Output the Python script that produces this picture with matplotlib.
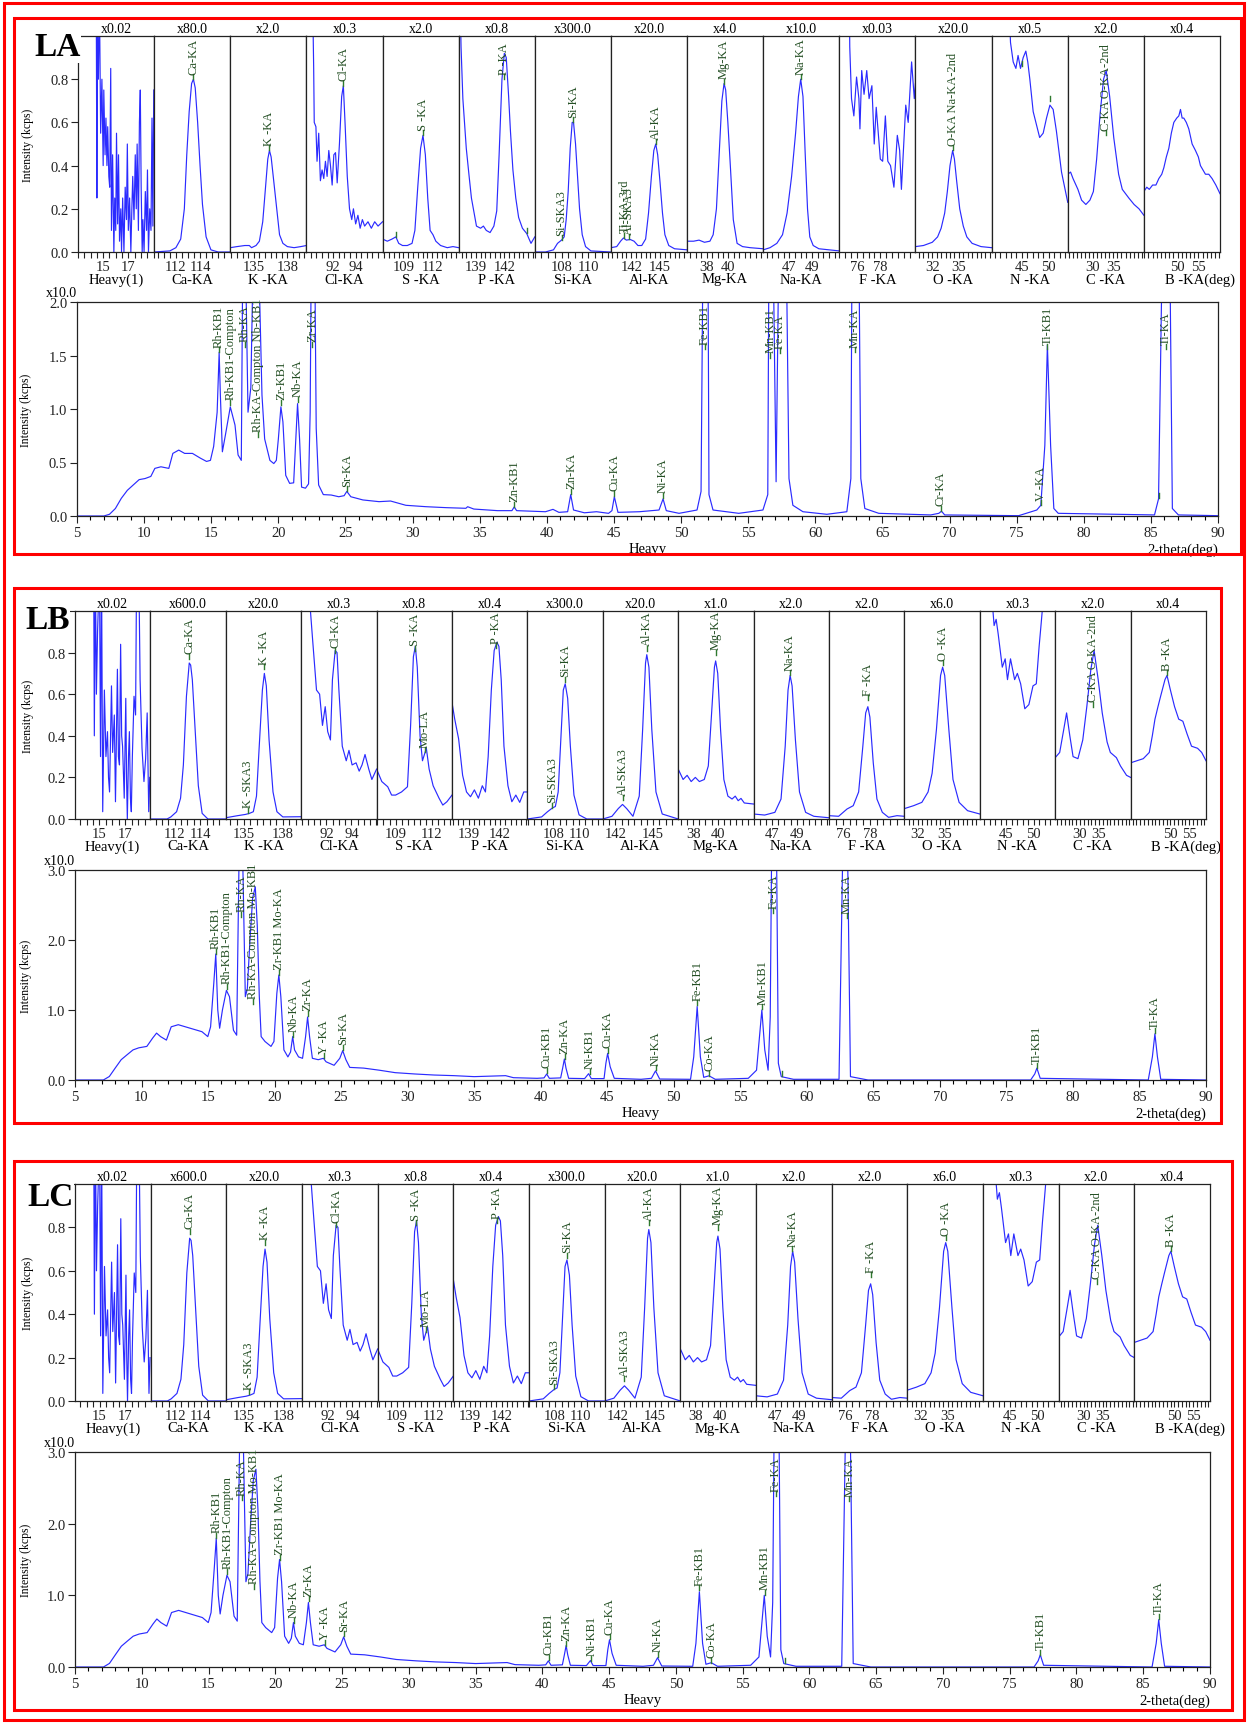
import numpy as np
import matplotlib
matplotlib.use('Agg')
import matplotlib.pyplot as plt
from matplotlib.patches import Rectangle

plt.rcParams['font.family'] = ['Liberation Serif', 'DejaVu Serif']

W, H = 1247, 1724
BLUE = '#2b2bff'
GREEN = '#2f7a2f'
TXTGREEN = '#244f24'

# ---- top row: element windows ----
NAMES = ['Heavy(1)', 'Ca-KA', 'K -KA', 'Cl-KA', 'S -KA', 'P -KA', 'Si-KA', 'Al-KA',
         'Mg-KA', 'Na-KA', 'F -KA', 'O -KA', 'N -KA', 'C -KA', 'B -KA(deg)']
TICKLABS = [(15, 17), (112, 114), (135, 138), (92, 94), (109, 112), (139, 142), (108, 110),
            (142, 145), (38, 40), (47, 49), (76, 78), (32, 35), (45, 50), (30, 35), (50, 55)]

LA_SCALES = ['x0.02', 'x80.0', 'x2.0', 'x0.3', 'x2.0', 'x0.8', 'x300.0', 'x20.0', 'x4.0',
             'x10.0', 'x0.03', 'x20.0', 'x0.5', 'x2.0', 'x0.4']
LB_SCALES = ['x0.02', 'x600.0', 'x20.0', 'x0.3', 'x0.8', 'x0.4', 'x300.0', 'x20.0', 'x1.0',
             'x2.0', 'x2.0', 'x6.0', 'x0.3', 'x2.0', 'x0.4']

LA_RANGES = [(13.0, 19.05), (110.2, 116.5), (132.9, 139.7), (89.6, 96.4), (106.8, 114.8),
             (137.2, 145.2), (106.0, 111.7), (139.9, 147.8), (36.2, 43.2), (44.7, 51.4),
             (74.5, 81.0), (30.1, 38.7), (39.4, 53.5), (23.8, 42.5), (41.9, 60.2)]
LB_RANGES = [(13.1, 18.95), (110.1, 116.0), (133.65, 139.4), (89.97, 96.03), (107.43, 113.66),
             (137.43, 144.6), (105.97, 111.85), (141.0, 147.0), (36.77, 42.93), (45.5, 51.63),
             (74.98, 80.55), (30.52, 38.9), (40.15, 53.9), (23.5, 43.3), (39.44, 59.44)]

LA_HEAVY = [(14.45, 1.2), (14.5, 0.25), (14.55, 1.0), (14.62, 0.8), (14.7, 1.2), (14.8, 0.55),
            (14.9, 0.8), (15.0, 0.4), (15.05, 0.75), (15.15, 0.45), (15.22, 0.62), (15.3, 0.4),
            (15.36, 0.58), (15.45, 0.35), (15.52, 0.3), (15.6, 0.85), (15.66, 0.1), (15.75, 0.45),
            (15.85, 0.0), (15.92, 0.25), (16.0, 0.1), (16.06, 0.55), (16.15, 0.13), (16.22, 0.45),
            (16.3, 0.05), (16.4, 0.2), (16.46, 0.0), (16.55, 0.25), (16.65, 0.0), (16.75, 0.3),
            (16.85, 0.15), (16.92, 0.5), (17.0, 0.1), (17.1, 0.25), (17.2, 0.0), (17.28, 0.2),
            (17.35, 0.35), (17.45, 0.15), (17.55, 0.45), (17.63, 0.2), (17.7, 0.5), (17.8, 0.1),
            (17.88, 0.6), (17.95, 0.75), (18.02, 0.3), (18.1, 0.0), (18.16, 0.15), (18.25, 0.0),
            (18.35, 0.28), (18.45, 0.1), (18.52, 0.38), (18.6, 0.0), (18.7, 0.2), (18.8, 0.1),
            (18.88, 0.62), (18.95, 0.12), (19.02, 0.75)]
LA_CA = [(110.2, 0.0), (111.5, 0.005), (112.0, 0.02), (112.4, 0.06), (112.7, 0.2), (112.9, 0.45),
         (113.1, 0.65), (113.3, 0.78), (113.45, 0.8), (113.6, 0.76), (113.8, 0.6), (114.0, 0.4),
         (114.2, 0.22), (114.5, 0.07), (114.9, 0.01), (115.5, 0.0), (116.5, 0.0)]
LA_K = [(132.9, 0.02), (133.5, 0.025), (134.2, 0.03), (134.6, 0.03), (134.8, 0.02), (135.2, 0.03),
        (135.5, 0.05), (135.8, 0.14), (136.05, 0.3), (136.25, 0.43), (136.4, 0.47), (136.55, 0.44),
        (136.8, 0.32), (137.05, 0.2), (137.3, 0.08), (137.6, 0.04), (138.0, 0.025), (138.6, 0.02),
        (139.2, 0.025), (139.7, 0.03)]
LA_CL = [(90.15, 1.2), (90.25, 0.85), (90.3, 0.6), (90.45, 0.58), (90.55, 0.42), (90.7, 0.55),
         (90.85, 0.33), (91.0, 0.38), (91.15, 0.34), (91.3, 0.42), (91.45, 0.35), (91.6, 0.47),
         (91.75, 0.4), (91.9, 0.31), (92.05, 0.45), (92.2, 0.46), (92.35, 0.32), (92.55, 0.5),
         (92.75, 0.72), (92.9, 0.77), (93.05, 0.6), (93.25, 0.35), (93.45, 0.2), (93.65, 0.15),
         (93.8, 0.2), (94.0, 0.13), (94.2, 0.17), (94.4, 0.11), (94.6, 0.15), (94.8, 0.12),
         (95.1, 0.14), (95.4, 0.11), (95.7, 0.14), (96.0, 0.12), (96.4, 0.14)]
LA_S = [(106.8, 0.06), (107.3, 0.05), (107.8, 0.06), (108.2, 0.07), (108.5, 0.04), (108.9, 0.03),
        (109.4, 0.03), (109.9, 0.04), (110.2, 0.1), (110.5, 0.3), (110.8, 0.48), (111.05, 0.54),
        (111.3, 0.45), (111.55, 0.25), (111.8, 0.1), (112.1, 0.08), (112.4, 0.05), (112.9, 0.03),
        (113.6, 0.02), (114.2, 0.025), (114.8, 0.02)]
LA_P = [(137.3, 1.3), (137.45, 0.95), (137.64, 0.71), (138.0, 0.48), (138.3, 0.35), (138.54, 0.25),
        (139.07, 0.12), (139.5, 0.11), (139.8, 0.12), (140.1, 0.1), (140.5, 0.09), (140.9, 0.12),
        (141.2, 0.19), (141.45, 0.45), (141.75, 0.8), (142.0, 0.92), (142.2, 0.9), (142.45, 0.72),
        (142.64, 0.56), (142.9, 0.38), (143.2, 0.25), (143.5, 0.16), (143.9, 0.11), (144.36, 0.085),
        (144.6, 0.06), (144.8, 0.04), (145.2, 0.07)]
LA_SI = [(106.0, 0.0), (106.8, 0.0), (107.4, 0.01), (107.7, 0.04), (108.0, 0.055), (108.2, 0.07),
         (108.35, 0.15), (108.5, 0.28), (108.65, 0.48), (108.8, 0.6), (108.9, 0.6), (109.05, 0.5),
         (109.2, 0.35), (109.35, 0.2), (109.55, 0.08), (109.8, 0.025), (110.2, 0.005), (111.7, 0.0)]
LA_AL = [(139.9, 0.02), (140.5, 0.025), (140.9, 0.05), (141.2, 0.065), (141.5, 0.055),
         (141.9, 0.058), (142.3, 0.05), (142.7, 0.03), (143.1, 0.03), (143.5, 0.06), (143.8, 0.18),
         (144.1, 0.35), (144.35, 0.47), (144.55, 0.5), (144.75, 0.45), (145.0, 0.32), (145.25, 0.18),
         (145.5, 0.08), (145.9, 0.03), (146.5, 0.015), (147.8, 0.01)]
LA_MG = [(36.2, 0.05), (36.8, 0.05), (37.3, 0.055), (37.8, 0.045), (38.3, 0.05), (38.6, 0.08),
         (38.9, 0.2), (39.15, 0.45), (39.4, 0.7), (39.6, 0.78), (39.75, 0.75), (39.95, 0.6),
         (40.2, 0.38), (40.45, 0.15), (40.8, 0.04), (41.3, 0.025), (42.0, 0.02), (43.2, 0.015)]
LA_NA = [(44.7, 0.01), (45.3, 0.02), (45.9, 0.04), (46.4, 0.08), (46.8, 0.18), (47.2, 0.35),
         (47.55, 0.55), (47.8, 0.72), (48.0, 0.8), (48.2, 0.72), (48.4, 0.45), (48.6, 0.2),
         (48.8, 0.07), (49.1, 0.03), (49.6, 0.015), (50.5, 0.01), (51.4, 0.005)]
LA_F = [(75.35, 1.2), (75.39, 0.95), (75.54, 0.71), (75.74, 0.63), (75.97, 0.81), (76.17, 0.71),
        (76.26, 0.57), (76.41, 0.84), (76.61, 0.73), (76.84, 0.84), (77.04, 0.71), (77.28, 0.77),
        (77.48, 0.5), (77.65, 0.67), (78.0, 0.43), (78.2, 0.42), (78.43, 0.63), (78.64, 0.42),
        (78.87, 0.4), (79.16, 0.3), (79.45, 0.54), (79.65, 0.47), (79.8, 0.29), (80.17, 0.68),
        (80.38, 0.6), (80.67, 0.88), (80.9, 0.71), (81.0, 0.78)]
LA_O = [(30.1, 0.025), (31.0, 0.03), (32.0, 0.045), (32.6, 0.07), (33.0, 0.11), (33.4, 0.18),
        (33.7, 0.28), (34.0, 0.4), (34.3, 0.47), (34.5, 0.43), (34.75, 0.33), (35.1, 0.2),
        (35.5, 0.12), (35.9, 0.07), (36.5, 0.04), (37.5, 0.025), (38.7, 0.02)]
LA_N = [(42.7, 1.1), (42.9, 0.97), (43.4, 0.88), (43.9, 0.85), (44.3, 0.91), (44.75, 0.85),
        (45.25, 0.9), (45.74, 0.93), (46.1, 0.88), (46.48, 0.8), (47.1, 0.65), (47.8, 0.58),
        (48.3, 0.53), (48.95, 0.55), (49.57, 0.62), (50.2, 0.68), (50.8, 0.66), (51.4, 0.56),
        (52.35, 0.37), (53.5, 0.23)]
LA_C = [(23.8, 0.36), (24.5, 0.37), (25.1, 0.34), (26.3, 0.29), (27.2, 0.24), (28.25, 0.22),
        (29.25, 0.24), (30.1, 0.28), (30.9, 0.43), (31.75, 0.64), (32.6, 0.8), (33.25, 0.84),
        (34.1, 0.72), (35.1, 0.53), (36.3, 0.36), (37.2, 0.29), (38.8, 0.25), (40.1, 0.22),
        (41.3, 0.2), (42.5, 0.17)]
LA_B = [(41.9, 0.28), (42.6, 0.3), (43.2, 0.29), (44.0, 0.31), (44.8, 0.31), (45.5, 0.34),
        (46.2, 0.36), (46.7, 0.39), (47.3, 0.44), (47.9, 0.48), (48.5, 0.55), (49.1, 0.6),
        (49.8, 0.62), (50.3, 0.63), (50.7, 0.66), (51.1, 0.62), (51.5, 0.62), (52.1, 0.6),
        (52.7, 0.57), (53.5, 0.5), (54.3, 0.47), (55.0, 0.44), (55.5, 0.4), (56.1, 0.38),
        (56.7, 0.36), (57.5, 0.36), (58.3, 0.34), (59.2, 0.31), (60.2, 0.27)]

LB_HEAVY = [(14.55, 1.2), (14.6, 0.4), (14.68, 1.2), (14.76, 0.6), (14.85, 0.9), (15.0, 1.2),
            (15.08, 0.3), (15.16, 1.2), (15.25, 0.035), (15.38, 0.62), (15.5, 0.3), (15.62, 0.42),
            (15.7, 0.2), (15.78, 0.13), (15.93, 0.64), (16.02, 0.32), (16.15, 0.5), (16.24, 0.083),
            (16.39, 0.72), (16.47, 0.3), (16.55, 0.26), (16.64, 0.84), (16.72, 0.4), (16.79, 0.35),
            (16.92, 0.1), (17.04, 0.58), (17.1, 0.2), (17.16, 0.0), (17.25, 0.3), (17.32, 0.42),
            (17.4, 0.1), (17.47, 0.035), (17.55, 0.3), (17.68, 0.59), (17.8, 0.5), (17.88, 1.2),
            (18.05, 1.2), (18.15, 0.67), (18.3, 0.34), (18.45, 0.18), (18.58, 0.29), (18.7, 0.51),
            (18.82, 0.035), (18.9, 0.2)]
LB_CA = [(110.1, 0.0), (111.4, 0.0), (111.7, 0.01), (112.15, 0.035), (112.46, 0.1), (112.68, 0.26),
         (112.92, 0.59), (113.14, 0.75), (113.25, 0.74), (113.38, 0.67), (113.6, 0.43),
         (113.85, 0.16), (114.15, 0.027), (114.6, 0.0), (116.0, 0.0)]
LB_K = [(133.65, 0.006), (134.55, 0.016), (135.15, 0.022), (135.45, 0.027), (135.75, 0.035),
        (135.99, 0.11), (136.2, 0.35), (136.44, 0.62), (136.59, 0.7), (136.74, 0.64), (136.95, 0.38),
        (137.25, 0.13), (137.55, 0.035), (138.0, 0.01), (139.4, 0.011)]
LB_CL = [(90.65, 1.05), (90.89, 0.86), (91.2, 0.62), (91.45, 0.6), (91.68, 0.45), (91.9, 0.54),
         (92.1, 0.42), (92.32, 0.38), (92.48, 0.67), (92.7, 0.81), (92.85, 0.8), (93.0, 0.62),
         (93.27, 0.35), (93.59, 0.28), (93.81, 0.33), (94.06, 0.26), (94.38, 0.27), (94.63, 0.23),
         (94.86, 0.26), (95.1, 0.31), (95.4, 0.24), (95.65, 0.19), (96.03, 0.24)]
LB_S = [(107.43, 0.24), (107.86, 0.18), (108.35, 0.155), (108.67, 0.115), (109.0, 0.115),
        (109.49, 0.13), (109.98, 0.155), (110.24, 0.45), (110.47, 0.78), (110.63, 0.83),
        (110.79, 0.73), (111.02, 0.4), (111.22, 0.28), (111.38, 0.31), (111.54, 0.34),
        (111.77, 0.24), (112.1, 0.16), (112.59, 0.1), (112.9, 0.067), (113.24, 0.083), (113.66, 0.115)]
LB_P = [(137.43, 0.56), (137.69, 0.48), (138.06, 0.385), (138.44, 0.21), (138.81, 0.13),
        (139.19, 0.107), (139.56, 0.14), (139.94, 0.1), (140.31, 0.16), (140.61, 0.13), (140.87, 0.3),
        (141.17, 0.62), (141.44, 0.81), (141.7, 0.85), (141.89, 0.83), (142.11, 0.67), (142.37, 0.35),
        (142.75, 0.16), (143.12, 0.083), (143.5, 0.115), (143.87, 0.08), (144.25, 0.13), (144.6, 0.13)]
LB_SI = [(105.97, 0.0), (107.08, 0.01), (107.54, 0.035), (107.94, 0.054), (108.15, 0.06),
         (108.37, 0.13), (108.55, 0.35), (108.77, 0.62), (108.92, 0.65), (109.11, 0.58),
         (109.32, 0.35), (109.6, 0.115), (110.0, 0.02), (110.6, 0.0), (111.85, 0.0)]
LB_AL = [(141.0, 0.0), (141.73, 0.013), (142.23, 0.05), (142.57, 0.07), (142.9, 0.05), (143.4, 0.013),
         (143.9, 0.11), (144.17, 0.43), (144.4, 0.75), (144.5, 0.79), (144.67, 0.73), (144.9, 0.43),
         (145.23, 0.13), (145.73, 0.024), (147.0, 0.0)]
LB_MG = [(36.77, 0.24), (37.17, 0.19), (37.5, 0.21), (37.83, 0.18), (38.17, 0.2), (38.5, 0.18),
         (38.9, 0.19), (39.23, 0.255), (39.5, 0.51), (39.73, 0.73), (39.83, 0.76), (40.0, 0.7),
         (40.23, 0.43), (40.5, 0.19), (40.83, 0.11), (41.17, 0.096), (41.43, 0.11), (41.67, 0.088),
         (41.9, 0.099), (42.17, 0.077), (42.93, 0.072)]
LB_NA = [(45.5, 0.024), (46.4, 0.019), (47.23, 0.032), (47.73, 0.096), (48.07, 0.35), (48.3, 0.62),
         (48.47, 0.69), (48.63, 0.64), (48.9, 0.38), (49.23, 0.13), (49.73, 0.032), (50.4, 0.013),
         (51.63, 0.006)]
LB_F = [(74.98, 0.016), (75.69, 0.013), (76.31, 0.048), (76.77, 0.064), (77.17, 0.13), (77.48, 0.35),
        (77.69, 0.51), (77.85, 0.54), (78.0, 0.49), (78.25, 0.27), (78.52, 0.096), (78.92, 0.032),
        (79.38, 0.008), (80.0, 0.016), (80.55, 0.013)]
LB_O = [(30.52, 0.05), (31.54, 0.064), (32.46, 0.08), (33.15, 0.13), (33.6, 0.22), (34.08, 0.43),
        (34.54, 0.69), (34.77, 0.73), (35.0, 0.69), (35.46, 0.43), (35.92, 0.19), (36.6, 0.08),
        (37.54, 0.04), (38.9, 0.024)]
LB_N = [(42.4, 1.05), (42.76, 0.93), (43.13, 0.96), (43.5, 0.89), (44.25, 0.73), (44.78, 0.77),
        (45.2, 0.67), (45.75, 0.77), (46.5, 0.67), (47.0, 0.7), (47.6, 0.65), (48.36, 0.53),
        (49.1, 0.55), (49.85, 0.64), (50.45, 0.65), (50.97, 0.83), (51.34, 0.94), (51.7, 1.05)]
LB_C = [(23.5, 0.295), (24.68, 0.32), (25.74, 0.43), (26.49, 0.51), (27.34, 0.4), (28.19, 0.3),
        (29.47, 0.29), (30.74, 0.38), (31.8, 0.54), (32.87, 0.72), (33.72, 0.81), (34.79, 0.67),
        (35.85, 0.51), (37.13, 0.37), (37.98, 0.32), (39.57, 0.295), (40.64, 0.255), (42.23, 0.21),
        (43.3, 0.2)]
LB_B = [(39.44, 0.27), (41.1, 0.28), (42.8, 0.29), (44.4, 0.32), (45.2, 0.4), (45.9, 0.48),
        (46.7, 0.54), (47.4, 0.59), (48.56, 0.67), (49.1, 0.69), (50.0, 0.62), (51.1, 0.54),
        (52.2, 0.48), (53.3, 0.47), (54.4, 0.41), (55.6, 0.35), (57.2, 0.34), (58.3, 0.32),
        (59.44, 0.28)]

# peak labels: (window index, position, marker height, text)
LA_PEAKS = [(1, 113.45, 0.8, 'Ca-KA'), (2, 136.4, 0.47, 'K -KA'), (3, 92.9, 0.77, 'Cl-KA'),
            (4, 108.2, 0.07, ''), (4, 111.05, 0.54, 'S -KA'), (5, 142.0, 0.8, 'P -KA'),
            (5, 144.36, 0.09, ''), (6, 108.0, 0.055, 'Si-SKA3'), (6, 108.85, 0.6, 'Si-KA'),
            (7, 141.3, 0.065, 'Ti-KA-3rd'), (7, 141.8, 0.06, 'Al-SKA3'), (7, 144.55, 0.5, 'Al-KA'),
            (8, 39.6, 0.78, 'Mg-KA'), (9, 48.0, 0.8, 'Na-KA'), (11, 34.3, 0.47, 'O-KA Na-KA-2nd'),
            (12, 45.0, 0.86, ''), (12, 50.2, 0.7, ''), (13, 33.3, 0.54, 'C-KA O-KA-2nd')]
LB_PEAKS = [(1, 113.15, 0.77, 'Ca-KA'), (2, 135.35, 0.03, 'K -SKA3'), (2, 136.59, 0.72, 'K -KA'),
            (3, 92.7, 0.8, 'Cl-KA'), (4, 110.6, 0.81, 'S -KA'), (4, 111.4, 0.32, 'Mo-LA'),
            (5, 141.6, 0.82, 'P -KA'), (6, 107.9, 0.054, 'Si-SKA3'), (6, 108.92, 0.66, 'Si-KA'),
            (7, 142.57, 0.09, 'Al-SKA3'), (7, 144.5, 0.81, 'Al-KA'), (8, 39.83, 0.79, 'Mg-KA'),
            (9, 48.45, 0.69, 'Na-KA'), (10, 77.85, 0.57, 'F -KA'), (11, 34.77, 0.74, 'O -KA'),
            (13, 33.5, 0.54, 'C-KA O-KA-2nd'), (14, 49.1, 0.69, 'B -KA')]

# ---- bottom: heavy element scan ----
LA_HEAVY_SCAN = [(5, 0), (7.0, 0), (7.42, 0.016), (7.86, 0.07), (8.3, 0.165), (8.75, 0.24), (9.19, 0.29),
                 (9.63, 0.34), (10.07, 0.35), (10.5, 0.37), (10.8, 0.445), (11.25, 0.46), (11.84, 0.445),
                 (12.14, 0.585), (12.58, 0.616), (13.02, 0.585), (13.6, 0.585), (14.2, 0.54),
                 (14.65, 0.51), (14.94, 0.52), (15.18, 0.65), (15.44, 0.97), (15.59, 1.53),
                 (15.68, 1.13), (15.83, 0.6), (16.06, 0.76), (16.42, 1.02), (16.77, 0.85), (17.0, 0.57),
                 (17.24, 0.52), (17.36, 2.6), (17.53, 2.6), (17.74, 0.97), (17.95, 1.2), (18.15, 2.6),
                 (18.5, 2.6), (18.78, 1.13), (18.98, 0.72), (19.37, 0.52), (19.66, 0.49), (19.85, 0.52),
                 (20.0, 0.72), (20.19, 1.02), (20.34, 0.88), (20.55, 0.38), (20.84, 0.305), (21.14, 0.31),
                 (21.34, 0.82), (21.43, 1.05), (21.58, 0.72), (21.73, 0.27), (22.02, 0.26), (22.25, 0.3),
                 (22.37, 0.97), (22.46, 2.6), (22.7, 2.6), (22.82, 0.82), (23.0, 0.29), (23.35, 0.2),
                 (23.94, 0.196), (24.5, 0.18), (24.9, 0.19), (25.1, 0.23), (25.4, 0.18), (26.3, 0.15),
                 (27.5, 0.134), (28.36, 0.14), (29.5, 0.10), (31.0, 0.087), (32.5, 0.078), (33.97, 0.072),
                 (34.1, 0.087), (34.56, 0.065), (36.33, 0.05), (37.4, 0.05), (37.57, 0.085), (37.75, 0.05),
                 (39.9, 0.04), (40.46, 0.062), (40.9, 0.034), (41.55, 0.04), (41.78, 0.2), (41.99, 0.056),
                 (42.8, 0.03), (43.7, 0.04), (44.6, 0.025), (44.85, 0.05), (45.03, 0.18), (45.3, 0.034),
                 (46.9, 0.04), (48.36, 0.056), (48.66, 0.16), (48.9, 0.05), (49.85, 0.025), (51.19, 0.056),
                 (51.49, 0.23), (51.64, 2.6), (52.0, 2.6), (52.08, 0.2), (52.38, 0.056), (54.3, 0.025),
                 (56.1, 0.056), (56.46, 0.2), (56.55, 2.6), (56.85, 2.6), (57.08, 0.32), (57.29, 2.6),
                 (57.83, 2.6), (58.04, 0.35), (58.33, 0.1), (59.08, 0.04), (60.86, 0.016), (62.35, 0.04),
                 (62.65, 0.35), (62.74, 2.6), (63.24, 2.6), (63.39, 0.35), (63.69, 0.07), (64.73, 0.025),
                 (68.6, 0.01), (69.2, 0.025), (69.4, 0.045), (69.64, 0.01), (75.15, 0.003), (76.5, 0.056),
                 (76.8, 0.1), (77.1, 0.66), (77.29, 1.6), (77.53, 0.66), (77.77, 0.07), (78.1, 0.025),
                 (85.27, 0.01), (85.57, 0.16), (85.86, 2.6), (86.4, 2.6), (86.6, 0.07), (87.05, 0.01),
                 (90, 0.003)]
LB_HEAVY_SCAN = [(5, 0), (7.13, 0), (7.58, 0.05), (8.02, 0.17), (8.47, 0.29), (8.91, 0.36), (9.36, 0.43),
                 (9.8, 0.46), (10.4, 0.48), (10.84, 0.6), (11.13, 0.67), (11.43, 0.62), (11.87, 0.57),
                 (12.23, 0.76), (12.76, 0.79), (13.65, 0.74), (14.54, 0.69), (14.98, 0.62), (15.19, 0.76),
                 (15.43, 1.38), (15.58, 1.8), (15.73, 1.0), (15.87, 0.74), (16.08, 1.0), (16.38, 1.28),
                 (16.61, 1.19), (16.91, 0.71), (17.15, 0.64), (17.36, 3.6), (17.56, 3.6), (17.8, 1.19),
                 (17.95, 1.3), (18.15, 2.0), (18.35, 2.6), (18.55, 2.76), (18.7, 2.2), (18.85, 1.2),
                 (18.99, 0.62), (19.28, 0.55), (19.73, 0.48), (19.95, 0.55), (20.17, 1.24), (20.32, 1.5),
                 (20.47, 1.19), (20.7, 0.43), (21.0, 0.33), (21.2, 0.4), (21.36, 0.62), (21.5, 0.43),
                 (21.8, 0.33), (22.1, 0.31), (22.33, 0.62), (22.48, 0.9), (22.63, 0.62), (22.84, 0.31),
                 (23.28, 0.29), (23.67, 0.31), (23.87, 0.26), (24.47, 0.21), (24.9, 0.31), (25.12, 0.42),
                 (25.36, 0.29), (25.65, 0.18), (26.69, 0.17), (27.87, 0.14), (29.06, 0.105), (30.54, 0.086),
                 (32.0, 0.071), (33.5, 0.062), (35.0, 0.048), (37.36, 0.062), (37.95, 0.033), (39.73, 0.024),
                 (40.25, 0.03), (40.45, 0.086), (40.65, 0.024), (41.5, 0.03), (41.65, 0.17), (41.78, 0.3),
                 (41.9, 0.17), (42.1, 0.024), (43.3, 0.02), (43.6, 0.09), (43.8, 0.02), (44.76, 0.02),
                 (44.9, 0.24), (45.03, 0.38), (45.22, 0.19), (45.53, 0.024), (47.54, 0.01), (48.32, 0.024),
                 (48.63, 0.13), (48.94, 0.014), (51.26, 0.01), (51.5, 0.33), (51.76, 1.05), (52.0, 0.33),
                 (52.25, 0.038), (52.65, 0.06), (53.12, 0.01), (55.6, 0.024), (56.22, 0.14), (56.62, 1.0),
                 (56.84, 0.43), (57.09, 0.14), (57.25, 0.9), (57.37, 3.6), (57.71, 3.6), (57.86, 0.24),
                 (58.08, 0.048), (59.0, 0.01), (62.42, 0.01), (62.73, 3.6), (63.04, 3.6), (63.28, 0.048),
                 (64.6, 0), (76.82, 0), (77.13, 0.086), (77.29, 0.17), (77.54, 0.024), (85.66, 0),
                 (85.97, 0.33), (86.16, 0.66), (86.35, 0.33), (86.6, 0.01), (90, 0)]

LA_SCAN_PEAKS = [(15.59, 1.53, 'Rh-KB1'), (16.42, 1.04, 'Rh-KB1-Compton'), (17.5, 1.58, 'Rh-KA'),
                 (18.48, 0.74, 'Rh-KA-Compton Nb-KB1'), (20.19, 1.04, 'Zr-KB1'), (21.43, 1.07, 'Nb-KA'),
                 (22.52, 1.58, 'Zr-KA'), (25.1, 0.23, 'Sr-KA'), (37.57, 0.087, 'Zn-KB1'),
                 (41.8, 0.21, 'Zn-KA'), (45.03, 0.19, 'Cu-KA'), (48.66, 0.17, 'Ni-KA'),
                 (51.79, 1.56, 'Fe-KB1'), (56.64, 1.48, 'Mn-KB1'), (57.35, 1.52, 'Fe-KA'),
                 (62.95, 1.53, 'Mn-KA'), (69.35, 0.05, 'Cr-KA'), (76.8, 0.1, 'V -KA'),
                 (77.29, 1.56, 'Ti-KB1'), (85.6, 0.17, ''), (86.1, 1.56, 'Ti-KA')]
LB_SCAN_PEAKS = [(15.58, 1.8, 'Rh-KB1'), (16.42, 1.3, 'Rh-KB1-Compton'), (17.5, 2.33, 'Rh-KA'),
                 (18.39, 1.09, 'Rh-KA-Compton Mo-KB1'), (20.32, 1.5, 'Zr-KB1 Mo-KA'),
                 (21.4, 0.62, 'Nb-KA'), (22.5, 0.92, 'Zr-KA'), (23.7, 0.31, 'Y -KA'),
                 (25.12, 0.43, 'Sr-KA'), (40.47, 0.1, 'Cu-KB1'), (41.8, 0.3, 'Zn-KA'),
                 (43.67, 0.09, 'Ni-KB1'), (45.05, 0.39, 'Cu-KA'), (48.65, 0.14, 'Ni-KA'),
                 (51.76, 1.07, 'Fe-KB1'), (52.65, 0.06, 'Co-KA'), (56.65, 1.01, 'Mn-KB1'),
                 (57.49, 2.38, 'Fe-KA'), (58.15, 0.06, ''), (63.0, 2.31, 'Mn-KA'),
                 (77.29, 0.17, 'Ti-KB1'), (86.16, 0.67, 'Ti-KA')]

LA_CURVES = [LA_HEAVY, LA_CA, LA_K, LA_CL, LA_S, LA_P, LA_SI, LA_AL, LA_MG, LA_NA, LA_F, LA_O, LA_N, LA_C, LA_B]
LB_CURVES = [LB_HEAVY, LB_CA, LB_K, LB_CL, LB_S, LB_P, LB_SI, LB_AL, LB_MG, LB_NA, LB_F, LB_O, LB_N, LB_C, LB_B]


fig = plt.figure(figsize=(W / 100, H / 100), dpi=100)


def px_axes(x0, y0, x1, y1):
    return fig.add_axes([x0 / W, 1 - y1 / H, (x1 - x0) / W, (y1 - y0) / H])


def px_rect(x0, y0, x1, y1, lw):
    fig.add_artist(Rectangle((x0 / W, 1 - y1 / H), (x1 - x0) / W, (y1 - y0) / H,
                             transform=fig.transFigure, fill=False, edgecolor='#ff0000', lw=lw))


def peak_mark(ax, x, y, text, h_px, yspan):
    d = yspan / h_px
    ax.plot([x, x], [y, y + 5 * d], color=GREEN, lw=1.0, clip_on=False, zorder=4)
    if text:
        ax.text(x, y + 5.5 * d, text, rotation=90, ha='center', va='bottom',
                fontsize=9, color=TXTGREEN, zorder=5)


def style_spines(ax):
    for s in ax.spines.values():
        s.set_color('#222222')
        s.set_linewidth(0.9)


def top_row(x0, x1, y0, y1, scales, ranges, curves, peaks):
    n = len(NAMES)
    w = (x1 - x0) / n
    h = y1 - y0
    axes = []
    for i in range(n):
        ax = px_axes(x0 + i * w, y0, x0 + (i + 1) * w, y1)
        xs, ys = zip(*curves[i])
        ax.plot(xs, ys, color=BLUE, lw=0.85)
        lo, hi = ranges[i]
        ax.set_xlim(lo, hi)
        ax.set_ylim(0, 1.0)
        step = 0.5 if hi - lo < 9 else 1.0
        ax.set_xticks(np.arange(np.ceil(lo / step) * step, hi, step), minor=True)
        ax.set_xticks(TICKLABS[i])
        ax.set_xticklabels([str(t) for t in TICKLABS[i]])
        ax.tick_params(axis='x', which='both', direction='out', length=4, width=0.8,
                       pad=1.5, labelsize=10.5, colors='#222222')
        if i == 0:
            ax.set_yticks([0, 0.2, 0.4, 0.6, 0.8, 1.0])
            ax.set_yticklabels(['0.0', '0.2', '0.4', '0.6', '0.8', '1.0'])
            ax.tick_params(axis='y', direction='out', length=5, width=0.8, pad=2,
                           labelsize=10.5, colors='#222222')
        else:
            ax.set_yticks([])
        style_spines(ax)
        ax.text(0.5, 1.0 + 1 / h, scales[i], transform=ax.transAxes, ha='center',
                va='bottom', fontsize=10)
        name = NAMES[i]
        dx = 0.24 if name.endswith('(deg)') else 0.0
        ax.text(0.5 + dx, -27 / h, name, transform=ax.transAxes, ha='center',
                va='center', fontsize=10.5)
        axes.append(ax)
    for i, x, y, text in peaks:
        peak_mark(axes[i], x, y, text, h, 1.0)
    fig.text(28 / W, 1 - (y0 + y1) / 2 / H, 'Intensity (kcps)', rotation=90,
             ha='center', va='center', fontsize=8.5)


def scan_plot(x0, x1, y0, y1, curve, peaks, ymax, yticks):
    ax = px_axes(x0, y0, x1, y1)
    h = y1 - y0
    xs, ys = zip(*curve)
    ax.plot(xs, ys, color=BLUE, lw=0.85)
    ax.set_xlim(5, 90)
    ax.set_ylim(0, ymax)
    ax.set_xticks(range(5, 91, 5))
    ax.set_xticks(range(5, 91, 1), minor=True)
    ax.set_yticks(yticks)
    ax.set_yticklabels(['%.1f' % t for t in yticks])
    ax.tick_params(axis='both', which='major', direction='out', length=5, width=0.8,
                   pad=2, labelsize=10.5, colors='#222222')
    ax.tick_params(axis='x', which='minor', direction='out', length=3, width=0.8)
    style_spines(ax)
    for x, y, text in peaks:
        peak_mark(ax, x, y, text, h, ymax)
    ax.text(0, 1.0 + 3 / h, 'x10.0', transform=ax.transAxes, ha='right', va='bottom', fontsize=10)
    ax.text((47.5 - 5) / 85, -33 / h, 'Heavy', transform=ax.transAxes, ha='center',
            va='center', fontsize=10.5)
    ax.text(1.0, -33 / h, '2-theta(deg)', transform=ax.transAxes, ha='right',
            va='center', fontsize=10.5)
    fig.text(26 / W, 1 - (y0 + y1) / 2 / H, 'Intensity (kcps)', rotation=90,
             ha='center', va='center', fontsize=8.5)


# panel LA
top_row(78, 1220, 37, 253, LA_SCALES, LA_RANGES, LA_CURVES, LA_PEAKS)
scan_plot(77, 1218, 303, 517, LA_HEAVY_SCAN, LA_SCAN_PEAKS, 2.0, [0, 0.5, 1.0, 1.5, 2.0])

# panel LB
top_row(75, 1206, 612, 820, LB_SCALES, LB_RANGES, LB_CURVES, LB_PEAKS)
scan_plot(75, 1206, 871, 1081, LB_HEAVY_SCAN, LB_SCAN_PEAKS, 3.0, [0, 1.0, 2.0, 3.0])

# panel LC (same measurement windows as LB)
top_row(75, 1210, 1185, 1402, LB_SCALES, LB_RANGES, LB_CURVES, LB_PEAKS)
scan_plot(75, 1210, 1453, 1668, LB_HEAVY_SCAN, LB_SCAN_PEAKS, 3.0, [0, 1.0, 2.0, 3.0])

# red frames and tags
px_rect(4, 4, 1244, 1721, 2.2)
px_rect(14, 19, 1241, 555, 2.2)
px_rect(14, 589, 1221, 1124, 2.2)
px_rect(14, 1162, 1232, 1711, 2.2)
for tag, x, y in [('LA', 34, 56), ('LB', 25, 629), ('LC', 27, 1206)]:
    fig.text(x / W, 1 - y / H, tag, fontsize=24, fontweight='bold', ha='left',
             va='baseline', zorder=10,
             bbox=dict(facecolor='white', edgecolor='none', pad=0.5))

fig.savefig('out.png', dpi=100)
